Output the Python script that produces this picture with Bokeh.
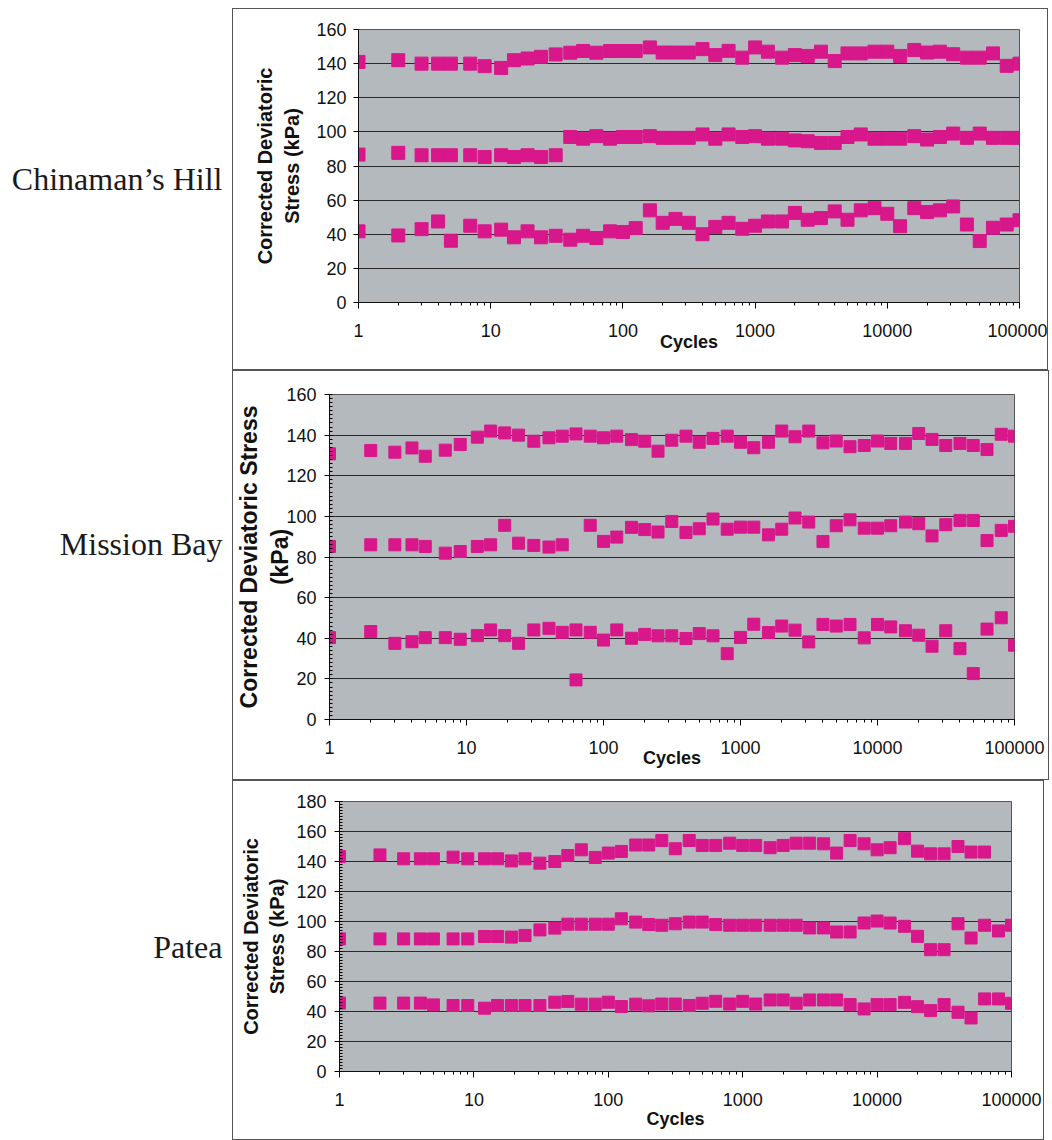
import numpy as np
from bokeh.plotting import figure
from bokeh.layouts import column, row, Spacer
from bokeh.models import Range1d, FixedTicker, NumeralTickFormatter, Label
from bokeh.embed import file_html
from bokeh.resources import INLINE

nan = float("nan")

# ---------------- data ----------------
cycles = [1, 2, 3, 4, 5, 7, 9, 12, 15, 19, 24, 31, 40, 50, 63, 80, 100,
          125, 160, 200, 250, 315, 400, 500, 630, 800, 1000,
          1250, 1600, 2000, 2500, 3150, 4000, 5000, 6300, 8000, 10000,
          12500, 16000, 20000, 25000, 31500, 40000, 50000, 63000, 80000, 100000]

site_names = ["Chinaman\u2019s Hill", "Mission Bay", "Patea"]

ch_upper = [141, 142, 140, 140, 140, 140, 138.5, 137.5, 142, 143, 144, 145.4, 146.4, 147.4, 146.4, 147.4, 147.4,
            147.4, 149.5, 146.5, 146.5, 146.5, 148.5, 145, 147.5, 143.5, 149.5,
            147, 143.5, 145, 144.5, 147, 141.5, 146, 146, 147, 147,
            144.5, 148, 146.5, 147, 145.5, 143.5, 143.5, 146, 138.7, 140]
ch_middle = [86.7, 87.7, 86.3, 86.3, 86.3, 86.3, 85.3, 86.3, 85.3, 86.3, 85.3, 86.3, 97, 96, 97.5, 96, 97,
             97, 97.5, 96.5, 96.5, 96.5, 98.5, 96, 98.5, 97, 97.5,
             96, 96, 95, 94.5, 93.5, 93.5, 97, 98.5, 96, 96,
             96, 97.5, 95.5, 97, 99, 96.5, 99, 96.5, 96.5, 96.5]
ch_lower = [41.7, 39.3, 43, 47.5, 36.2, 45, 41.7, 42.7, 38.2, 41.7, 38.2, 39.1, 36.8, 39.1, 37.8, 41.7, 41.3,
            43.6, 54, 46.7, 49, 46.7, 40, 44.3, 46.7, 43.2, 45,
            47.5, 47.5, 52.5, 48.5, 49.5, 53.4, 48.5, 54, 55.3, 52,
            44.7, 55.3, 53, 54, 56.3, 45.7, 36, 43.8, 45.7, 48.2]

mb_upper = [130.8, 132.4, 131.6, 133.7, 129.6, 132.6, 135.4, 139, 142, 141.1, 140, 137, 138.7, 139.5, 140.6, 139.5, 138.7,
            139.5, 137.8, 137, 132.1, 137.5, 139.5, 136.5, 138.4, 139.5, 136.5,
            133.8, 136.5, 142, 139.2, 142, 136.2, 137.1, 134.3, 134.9, 137.1,
            135.9, 135.9, 140.8, 137.9, 134.9, 135.9, 134.9, 132.9, 140.4, 139.5]
mb_middle = [85.2, 86, 86, 86, 85.2, 81.9, 82.7, 85.2, 86, 95.6, 86.8, 85.7, 84.9, 86, 19.5, 95.6, 87.7,
             89.8, 94.6, 93.5, 92.3, 97.5, 92.1, 93.9, 98.7, 93.7, 94.7,
             94.7, 90.9, 93.7, 99.2, 97.2, 87.6, 95.4, 98.3, 94.2, 94.2,
             95.4, 97.2, 96.4, 90.4, 95.9, 98, 98, 88.1, 93.1, 95.1]
mb_lower = [40.3, 43.3, 37.5, 38.3, 40.3, 40.3, 39.5, 41.3, 44.1, 41.3, 37.5, 44.1, 44.9, 42.9, 44.1, 42.9, 39.1,
            44.1, 40, 41.9, 41.2, 41.2, 39.9, 42.3, 41.2, 32.4, 40.4,
            46.9, 42.8, 46, 44, 38.2, 46.8, 46, 46.8, 40.2, 46.8,
            45.6, 43.7, 41.5, 36.1, 43.7, 34.9, 22.6, 44.5, 50.1, 36.6]

pa_upper = [143.3, 144.4, 141.8, 141.8, 141.8, 142.9, 141.8, 141.8, 141.8, 140.4, 141.8, 138.9, 140, 144, 147.8, 142.7, 145.6,
            146.7, 151, 151, 154, 148.5, 154, 150.7, 150.7, 152.2, 150.7,
            150.7, 149.2, 150.7, 152.2, 152.2, 151.8, 145.6, 154, 151.8, 147.8,
            149.2, 155.2, 146.9, 145.1, 145.1, 150, 146.3, 146.3, nan, nan]
pa_middle = [88.4, 88.4, 88.4, 88.4, 88.4, 88.4, 88.4, 90, 90, 89.6, 90.7, 94.4, 95.6, 98.2, 98.2, 98.2, 98.2,
             101.8, 99.6, 98, 97.5, 98.5, 99.6, 99.6, 98, 97.5, 97.5,
             97.5, 97.5, 97.5, 97.5, 95.7, 95.7, 93, 93, 99, 100.3,
             99, 96.8, 90.1, 81.2, 81.2, 98.5, 89, 97.5, 93.7, 97.5]
pa_lower = [45.6, 45.6, 45.6, 45.6, 44.4, 44, 44, 42.2, 44, 44, 44, 44, 46.2, 46.7, 44.9, 44.9, 46.2,
            43.3, 44.9, 43.8, 45, 45, 44, 45.5, 46.8, 45, 46.8,
            45, 47.7, 47.7, 45.5, 47.7, 47.7, 47.7, 44.6, 41.7, 44.6,
            44.6, 46.1, 43.2, 40.6, 44.6, 39.5, 35.7, 48.4, 48.4, 45.5]

x_major = [1, 10, 100, 1000, 10000, 100000]
x_minor = [m * 10 ** d for d in range(5) for m in range(2, 10)]

# ---------------- style ----------------
PINK = "#d8178b"
BG = "#b4b9bd"
GRID = "#2a2a2a"
SANS = "Liberation Sans"
SERIF = "Liberation Serif"

LABEL_W = 232


def site_label(text, height, y_screen):
    p = figure(width=LABEL_W, height=height, output_backend="svg", toolbar_location=None,
               x_range=Range1d(0, LABEL_W), y_range=Range1d(0, height),
               x_axis_location=None, y_axis_location=None,
               min_border=0, outline_line_color=None)
    p.grid.visible = False
    p.add_layout(Label(x=LABEL_W - 10, y=y_screen, x_units="screen", y_units="screen",
                       text=text, text_align="right", text_baseline="alphabetic",
                       text_font=SERIF, text_font_size="32px", text_color="#1a1a1a"))
    return p


def chart(width, height, bl, br, bt, bb, ymax, series, ylabel, ylabel_size, ylabel_lh,
          ylabel_standoff, ylab_tick_standoff, xlabel_standoff, msize, minor_y):
    p = figure(width=width, height=height, output_backend="svg", toolbar_location=None,
               x_axis_type="log", x_range=Range1d(1, 100000), y_range=Range1d(0, ymax),
               min_border_left=bl, min_border_right=br, min_border_top=bt, min_border_bottom=bb,
               background_fill_color=BG, border_fill_color="white",
               outline_line_color="#555555", outline_line_width=1,
               styles={"border": "1px solid #555555", "box-sizing": "border-box"})
    for ys in series:
        p.scatter(cycles, ys, marker="square", size=msize, fill_color=PINK, line_color=PINK)

    p.xgrid.visible = False
    p.ygrid.grid_line_color = GRID
    p.ygrid.grid_line_width = 1

    xa = p.xaxis[0]
    xa.ticker = FixedTicker(ticks=x_major, minor_ticks=x_minor)
    xa.formatter = NumeralTickFormatter(format="0")
    xa.major_tick_out = 6
    xa.major_tick_in = 0
    xa.minor_tick_out = 3
    xa.minor_tick_in = 0
    xa.major_label_standoff = 15
    xa.major_label_text_font = SANS
    xa.major_label_text_font_size = "18px"
    xa.major_label_text_color = "#111111"
    xa.axis_label = "Cycles"
    xa.axis_label_text_font = SANS
    xa.axis_label_text_font_style = "bold"
    xa.axis_label_text_font_size = "18px"
    xa.axis_label_text_color = "#111111"
    xa.axis_label_standoff = xlabel_standoff
    xa.axis_line_color = "#111111"

    ya = p.yaxis[0]
    yt = list(range(0, ymax + 1, 20))
    ya.ticker = FixedTicker(ticks=yt, minor_ticks=list(range(0, ymax + 1, 2)) if minor_y else [])
    ya.major_tick_out = 5
    ya.major_tick_in = 0
    ya.minor_tick_out = 0
    ya.minor_tick_in = 3
    ya.major_label_standoff = ylab_tick_standoff
    ya.major_label_text_font = SANS
    ya.major_label_text_font_size = "18px"
    ya.major_label_text_color = "#111111"
    ya.axis_label = ylabel
    ya.axis_label_text_font = SANS
    ya.axis_label_text_font_style = "bold"
    ya.axis_label_text_font_size = ylabel_size
    ya.axis_label_text_line_height = ylabel_lh
    ya.axis_label_text_color = "#111111"
    ya.axis_label_standoff = ylabel_standoff
    ya.axis_line_color = "#111111"
    return p


H1, H2, H3 = 362, 410, 360

p1 = chart(816, H1, 125, 30, 20, 69, 160, [ch_upper, ch_middle, ch_lower],
           "Corrected Deviatoric\nStress (kPa)", "20px", 1.25, 10, 7, -8, 13, False)
p2 = chart(817, H2, 94, 36, 23, 62, 160, [mb_upper, mb_middle, mb_lower],
           "Corrected Deviatoric Stress\n(kPa)", "23px", 1.2, -10, 8, -9, 12, True)
p3 = chart(812, H3, 106, 34, 20, 70, 180, [pa_upper, pa_middle, pa_lower],
           "Corrected Deviatoric\nStress (kPa)", "20px", 1.2, 5, 8, 0, 12, True)

l1 = site_label(site_names[0], H1, 123)
l2 = site_label(site_names[1], H2, 175)
l3 = site_label(site_names[2], H3, 124)

layout = column(Spacer(height=8), row(l1, p1), row(l2, p2), row(l3, p3))

open("out.html", "w").write(file_html(layout, INLINE))
